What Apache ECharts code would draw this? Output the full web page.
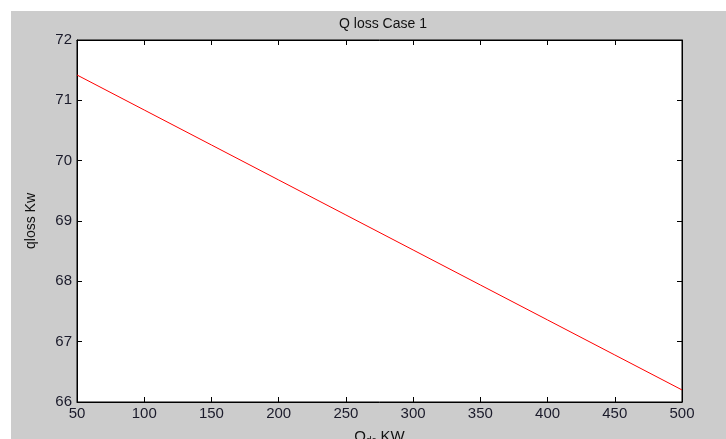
<!DOCTYPE html>
<html>
<head>
<meta charset="utf-8">
<script src="https://cdn.jsdelivr.net/npm/echarts@6/dist/echarts.min.js"></script>
<style>
html,body{margin:0;padding:0;background:#fff;}
#c{width:726px;height:439px;}
</style>
</head>
<body>
<div id="c"></div>
<script>
var qdc = [50, 100, 150, 200, 250, 300, 350, 400, 450, 500];
var qloss = [71.42, 70.84, 70.26, 69.68, 69.10, 68.52, 67.94, 67.36, 66.78, 66.20];
var xTicks = [50, 100, 150, 200, 250, 300, 350, 400, 450, 500];
var yTicks = [66, 67, 68, 69, 70, 71, 72];

var chart = echarts.init(document.getElementById('c'));
var font = 'Liberation Sans, Arial, sans-serif';
var data = qdc.map(function (x, i) { return [x, qloss[i]]; });
var tickStyle = { show: true, inside: true, length: 5, lineStyle: { color: '#000', width: 1 } };
var lineStyle = { show: true, lineStyle: { color: '#000', width: 1 } };
chart.setOption({
  animation: false,
  backgroundColor: '#fff',
  graphic: [{
    type: 'rect', z: -10, silent: true,
    shape: { x: 11, y: 11, width: 715, height: 428 },
    style: { fill: '#cccccc' }
  }],
  title: {
    text: 'Q loss Case 1', left: 378, top: 12, textAlign: 'center',
    textStyle: { fontFamily: font, fontSize: 14, fontWeight: 'normal', color: '#111' }
  },
  grid: { left: 77, top: 40, right: 44, bottom: 37, containLabel: false, outerBoundsMode: 'none', show: true, backgroundColor: '#fff', borderColor: '#000', borderWidth: 1 },
  xAxis: [{
    type: 'value', min: xTicks[0], max: xTicks[xTicks.length - 1], interval: 50,
    position: 'bottom',
    axisLine: lineStyle, axisTick: tickStyle, splitLine: { show: false },
    axisLabel: { fontFamily: font, fontSize: 15, color: '#1a1a2a', margin: 4 },
    name: '{q|Q}{s|dc}{q| KW}', nameLocation: 'middle', nameGap: 26,
    nameTextStyle: { rich: { q: { fontFamily: font, fontSize: 15, color: '#111' }, s: { fontFamily: font, fontSize: 10, color: '#111', verticalAlign: 'bottom', padding: [8, 0, 0, 0] } } }
  }, {
    type: 'value', min: xTicks[0], max: xTicks[xTicks.length - 1], interval: 50,
    position: 'top',
    axisLine: lineStyle, axisTick: tickStyle, splitLine: { show: false }, axisLabel: { show: false }
  }],
  yAxis: [{
    type: 'value', min: yTicks[0], max: yTicks[yTicks.length - 1], interval: 1,
    position: 'left',
    axisLine: lineStyle, axisTick: tickStyle, splitLine: { show: false },
    axisLabel: { fontFamily: font, fontSize: 15, color: '#1a1a2a', margin: 5 },
    name: 'qloss Kw', nameLocation: 'middle', nameGap: 39,
    nameTextStyle: { fontFamily: font, fontSize: 14, color: '#111' }
  }, {
    type: 'value', min: yTicks[0], max: yTicks[yTicks.length - 1], interval: 1,
    position: 'right',
    axisLine: lineStyle, axisTick: tickStyle, splitLine: { show: false }, axisLabel: { show: false }
  }],
  series: [{
    type: 'line', data: data, showSymbol: false, symbol: 'none',
    lineStyle: { color: '#ff0000', width: 1 }, silent: true
  }]
});
</script>
</body>
</html>
